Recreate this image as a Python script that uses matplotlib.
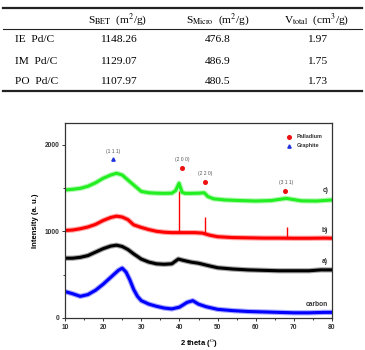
import matplotlib.pyplot as plt
from matplotlib.lines import Line2D

plt.rcParams["mathtext.fontset"] = "stix"

# table data
row_names = ["IE  Pd/C", "IM  Pd/C", "PO  Pd/C"]
s_bet = ["1148.26", "1129.07", "1107.97"]
s_micro = ["476.8", "486.9", "480.5"]
v_total = ["1.97", "1.75", "1.73"]
headers = [r"S$_{\mathrm{BET}}$  (m$^2$/g)", r"S$_{\mathrm{Micro}}$  (m$^2$/g)",
           r"V$_{\mathrm{total}}$  (cm$^3$/g)"]

# XRD curves
c_x = [10, 12, 14, 16, 18, 20, 22, 23.5, 25, 26.5, 28, 30, 32, 34, 36, 38, 39, 39.9, 40.7, 41.5,
       43, 45, 46.5, 47.5, 49, 52, 56, 60, 64, 68, 72, 76, 80]
c_y = [1477, 1485, 1496, 1520, 1560, 1612, 1650, 1670, 1650, 1592, 1535, 1460, 1445, 1440, 1438, 1440,
       1470, 1555, 1450, 1438, 1438, 1440, 1445, 1400, 1375, 1362, 1355, 1350, 1355, 1380, 1352, 1350, 1362]

b_x = [10, 12, 14, 16, 18, 20, 22, 23.5, 25, 26.5, 28, 30, 32, 34, 36, 38, 40, 42, 44, 46, 48, 50,
       54, 58, 62, 66, 70, 74, 78, 80]
b_y = [1010, 1015, 1030, 1050, 1080, 1125, 1160, 1175, 1165, 1135, 1075, 1045, 1020, 1000, 990, 985,
       985, 985, 985, 980, 955, 938, 928, 925, 922, 922, 920, 920, 922, 920]
b_peak_x = [40.0, 46.6, 68.1]
b_peak_base = [985, 980, 922]
b_peak_top = [1465, 1160, 1050]

a_x = [10, 12, 14, 16, 18, 20, 22, 23.5, 25, 26.5, 28, 30, 32, 34, 36, 38, 39.7, 41, 43, 45, 48,
       50, 54, 58, 62, 66, 70, 74, 77, 80]
a_y = [690, 690, 700, 720, 760, 800, 830, 840, 825, 790, 740, 680, 645, 625, 620, 625, 680, 665, 645,
       632, 600, 580, 565, 555, 550, 545, 545, 545, 555, 555]

carbon_x = [10, 12, 14, 16, 18, 20, 22, 24, 25, 26, 27, 28, 29, 30, 32, 34, 36, 38, 40, 42, 43.5,
            45, 47, 50, 54, 58, 62, 66, 70, 74, 78, 80]
carbon_y = [305, 280, 250, 270, 320, 390, 470, 550, 575, 530, 440, 330, 250, 200, 160, 135, 115, 105,
            125, 180, 200, 160, 130, 100, 85, 75, 70, 65, 60, 60, 65, 65]

fig = plt.figure(figsize=(3.65, 3.5), dpi=100)

# ---- table ----
serif = "Liberation Serif"
def hline(y, lw):
    fig.add_artist(Line2D([3 / 365, 362 / 365], [1 - y / 350, 1 - y / 350],
                          color="#222222", lw=lw, transform=fig.transFigure))
hline(8.3, 1.6)
hline(29, 0.8)
hline(91, 1.6)

col_x = [118, 218, 317]
for cx, h in zip(col_x, headers):
    fig.text(cx / 365, 1 - 20 / 350, h, ha="center", va="center", fontsize=8.2, family=serif)
row_y = [40, 61, 82]
for ry, name, v1, v2, v3 in zip(row_y, row_names, s_bet, s_micro, v_total):
    fig.text(15 / 365, 1 - ry / 350, name, ha="left", va="center", fontsize=8.2, family=serif)
    for cx, v in zip(col_x, [v1, v2, v3]):
        fig.text(cx / 365, 1 - ry / 350, v, ha="center", va="center", fontsize=8.2, family=serif)

# ---- XRD chart ----
ax = fig.add_axes([65 / 365, 1 - 318 / 350, 267 / 365, 195 / 350])
series = [(carbon_x, carbon_y, "#0000ff"), (a_x, a_y, "black"), (b_x, b_y, "#ff0000"), (c_x, c_y, "#22ee22")]
for xs, ys, col in series:
    # soft band for the noise, then the core line
    ax.plot(xs, ys, color=col, lw=3.8, alpha=0.35)
    ax.plot(xs, ys, color=col, lw=2.2)
    if col == "#ff0000":
        ax.vlines(b_peak_x, b_peak_base, b_peak_top, color="#ff0000", lw=1.0)

ax.set_xlim(10, 80)
ax.set_ylim(0, 2250)
ax.set_xticks(range(10, 81, 10))
ax.set_xticks(range(15, 80, 10), minor=True)
ax.set_yticks([0, 1000, 2000])
ax.set_yticks([500, 1500], minor=True)
ax.tick_params(which="both", direction="out", labelsize=4.8, width=0.7, pad=1.5, colors="#333333")
ax.tick_params(which="major", length=2.5)
ax.tick_params(which="minor", length=1.5)
for lab in ax.get_xticklabels() + ax.get_yticklabels():
    lab.set_fontweight("bold")
    lab.set_family("Liberation Sans")
for sp in ax.spines.values():
    sp.set_linewidth(0.9)
    sp.set_color("#333333")

ax.set_xlabel(r"2 theta ($^{\rm O}$)", fontsize=5.5, fontweight="bold", family="Liberation Sans", labelpad=4)
ax.set_ylabel("Intensity (a. u.)", fontsize=5.5, fontweight="bold", family="Liberation Sans", labelpad=4)

# peak markers
ax.plot([22.5], [1835], marker="^", color="#2233dd", ms=2.4, ls="none")
ax.plot([40.7, 46.7, 67.7], [1730, 1566, 1465], marker="o", color="#ee1111", ms=2.6, ls="none")
ann = [(22.5, 1920, "(1 1 1)"), (40.7, 1830, "(2 0 0)"), (46.8, 1670, "(2 2 0)"), (68.0, 1565, "(3 1 1)")]
for x, y, t in ann:
    ax.text(x, y, t, fontsize=3.6, color="#555555", ha="center", va="center", family="Liberation Sans")

# legend
ax.plot([68.6], [2092], marker="o", color="#ee1111", ms=2.6, ls="none")
ax.plot([68.6], [1985], marker="^", color="#2233dd", ms=2.4, ls="none")
ax.text(70.7, 2092, "Palladium", fontsize=4, fontweight="bold", va="center", family="Liberation Sans", color="#333333")
ax.text(70.7, 1985, "Graphite", fontsize=4, fontweight="bold", va="center", family="Liberation Sans", color="#333333")

# series labels
for y, t in [(1470, "c)"), (1010, "b)"), (650, "a)"), (150, "carbon")]:
    ax.text(79, y, t, fontsize=4.8, fontweight="bold", ha="right", va="center", family="Liberation Sans", color="#333333")

fig.savefig("out.png", dpi=100)
